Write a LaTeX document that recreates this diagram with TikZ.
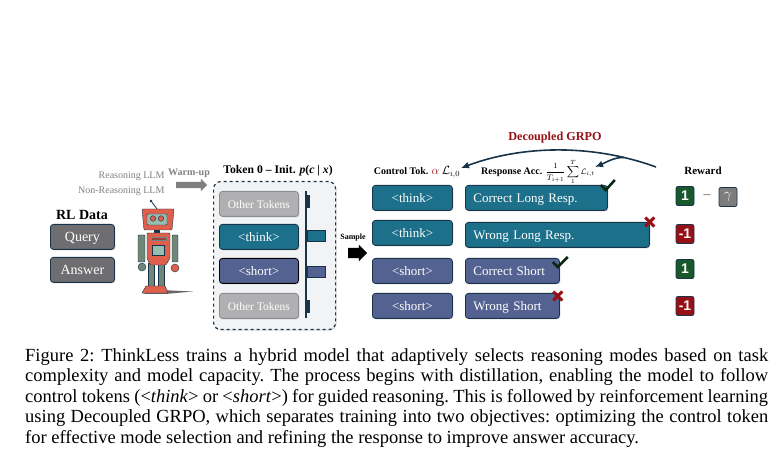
\documentclass[tikz,border=0pt]{standalone}
\usepackage{fontspec}
\setmainfont{Liberation Serif}
\setsansfont{Liberation Sans}
\usepackage{color}
\definecolor{myteal}{RGB}{29,112,138}
\definecolor{myindigo}{RGB}{84,98,145}
\definecolor{mygrey}{RGB}{110,110,112}
\definecolor{mylight}{RGB}{176,176,178}
\definecolor{myedge}{RGB}{24,52,74}
\definecolor{mypanel}{RGB}{241,243,245}
\definecolor{mygreen}{RGB}{24,88,42}
\definecolor{myred}{RGB}{150,16,22}
\definecolor{myrobot}{RGB}{222,96,76}
\definecolor{myrobotg}{RGB}{112,134,118}
\definecolor{myface}{RGB}{150,190,176}
\usepackage{amsmath}
\usetikzlibrary{positioning,shapes.arrows,shadows,calc,arrows.meta}

\begin{document}
\begin{tikzpicture}[
  x=1pt,
  y=-1pt,
  mybox/.style={
    draw=myedge,
    thick,
    rounded corners=3pt,
    anchor=north west,
    minimum height=25pt,
    text height=11pt,
    text depth=2pt,
    text=white,
    font=\fontsize{13}{15}\selectfont,
    drop shadow={shadow xshift=1pt,shadow yshift=-1pt,opacity=.35}
  },
  mytok/.style={
    mybox,
    minimum width=80pt,
    fill=#1
  },
  myother/.style={
    mybox,
    draw=mylight!80!black,
    fill=mylight,
    minimum width=79pt,
    font=\fontsize{11.5}{15}\selectfont
  },
  myresp/.style={
    mybox,
    inner xsep=8pt,
    fill=#1,
    align=left
  },
  mybadge/.style={
    draw=myedge,
    thick,
    rounded corners=2pt,
    minimum width=18pt,
    minimum height=19pt,
    inner sep=0pt,
    text=white,
    fill=#1,
    font=\fontsize{14}{15}\sffamily\bfseries\selectfont
  },
  myhead/.style={
    font=\fontsize{10}{12}\bfseries\selectfont
  },
  mybar/.style={
    draw=myedge,
    fill=#1,
    inner sep=0pt,
    anchor=west
  },
  myblock/.style={
    single arrow,
    draw=none,
    fill=#1,
    inner sep=0pt,
    single arrow head extend=3pt,
    single arrow tip angle=90
  },
  mycheck/.style={
    draw=mygreen!45!black,
    line width=2.6pt
  },
  mycross/.style={
    draw=myred,
    line width=3pt
  },
  myupdate/.style={
    -{Latex[length=8pt,width=7pt]},
    myedge,
    line width=1.6pt
  }
]
\useasboundingbox (0,0) rectangle (780,470);

% left column
\node[myhead, font=\fontsize{14}{16}\bfseries\selectfont] (rldata) at (82,215) {RL Data};
\node[mybox, fill=mygrey, minimum width=64pt, font=\fontsize{14}{15}\selectfont] (query) at (50,224) {Query};
\node[mybox, fill=mygrey, minimum width=64pt, font=\fontsize{14}{15}\selectfont] (answer) at (50,257) {Answer};

\node[text=gray, anchor=east, font=\fontsize{10}{11}\selectfont] (rllm) at (168,176) {Reasoning LLM};
\node[text=gray, anchor=east, font=\fontsize{10}{11}\selectfont] (nllm) at (168,191) {Non-Reasoning LLM};
\node[myhead, text=gray, font=\fontsize{10}{10}\bfseries\selectfont] (warm) at (189,173) {Warm-up};
\node[myblock=gray, minimum height=31pt] (warmarrow) at (190,185) {\rule{0pt}{6pt}};

% robot
\fill[black!60] (160,290) -- (193,291.5) -- (165,294) -- (142,294) -- cycle;
\draw[myedge, thick] (151,201) -- (157,209);
\fill[myedge] (151,201) circle (1.4);
\fill[myedge] (154,229) rectangle (160,235);
\draw[myedge, fill=myrobotg, rounded corners=1pt] (138,235) rectangle (145,262);
\draw[myedge, fill=myrobotg, rounded corners=1pt] (172,235) rectangle (178,262);
\draw[myedge, fill=myrobotg] (142,267) circle (4);
\draw[myedge, fill=myrobot] (175,268) circle (4);
\draw[myedge, fill=myrobotg] (148,263) rectangle (154,286);
\draw[myedge, fill=myrobotg] (158,263) rectangle (164,286);
\draw[myedge, fill=myrobot, rounded corners=1pt] (147,233) -- (170,233) -- (170,258) -- (166,265) -- (150,265) -- (147,258) -- cycle;
\draw[myedge!60, fill=myrobot!70!black] (151,237) rectangle (166,240);
\draw[myedge, fill=myface] (152,245) rectangle (164,255);
\draw[myedge, fill=myrobot, rounded corners=1pt] (142,209) -- (174,209) -- (172,230) -- (144,230) -- cycle;
\draw[myedge, fill=myface, rounded corners=1pt] (147,214) rectangle (167,225);
\draw[myedge, fill=myrobot] (153,218.5) circle (2.8);
\draw[myedge, fill=myrobot] (161,218.5) circle (2.8);
\draw[myedge, fill=myrobot] (146,286) -- (165,286) -- (168,293) -- (142,293) -- cycle;

% token panel
\node[myhead, font=\fontsize{11.7}{13}\bfseries\selectfont] (tokhead) at (278,171) {Token 0 -- Init. \textit{p}(\textit{c} | \textit{x})};
\node[draw=myedge, very thick, dashed, fill=mypanel, rounded corners=7pt, minimum width=122pt, minimum height=148pt, anchor=north west, drop shadow={shadow xshift=1pt,shadow yshift=-1pt,opacity=.3}] (panel) at (213,181) {};
\node[myother] (tok1) at (219,191) {Other Tokens};
\node[mytok=myteal, minimum width=79pt] (tok2) at (219,224) {<think>};
\node[mytok=myindigo, minimum width=79pt, draw=black] (tok3) at (219,258) {<short>};
\node[myother] (tok4) at (219,293) {Other Tokens};
\coordinate (axtop) at (306,191);
\coordinate (axbot) at (306,318);
\draw[myedge, line width=1.1pt] (axtop) -- (axbot);
\node[mybar=myedge, minimum width=2pt, minimum height=12pt] (bar1) at (307,201) {};
\node[mybar=myteal, minimum width=18pt, minimum height=11pt] (bar2) at (307,236) {};
\node[mybar=myindigo, minimum width=18pt, minimum height=11pt] (bar3) at (307,272) {};
\node[mybar=myedge, minimum width=2pt, minimum height=12pt] (bar4) at (307,306) {};

\node[myhead, font=\fontsize{8}{8}\bfseries\selectfont] (samp) at (353,238) {Sample};
\node[myblock=black, minimum height=19pt] (samparrow) at (355,253) {\rule{0pt}{10pt}};

% control tokens and responses
\node[myhead] (ctrlhead) at (417,172) {Control Tok. \textcolor{myred}{\fontsize{13}{13}\selectfont$\alpha$}\ {\fontsize{12}{13}\selectfont$\mathcal{L}_{i,0}$}};
\node[myhead, anchor=west, inner sep=0pt] (resphead) at (481,172) {Response Acc. {\fontsize{8}{9}\selectfont$\displaystyle\frac{1}{T_{i+1}}\sum_{1}^{T}\mathcal{L}_{i,t}$}};
\node[mytok=myteal] (ctrl1) at (372,185) {<think>};
\node[mytok=myteal] (ctrl2) at (372,220) {<think>};
\node[mytok=myindigo] (ctrl3) at (372,258) {<short>};
\node[mytok=myindigo] (ctrl4) at (372,293) {<short>};
\node[myresp=myteal, text width=126pt] (resp1) at (465,185) {Correct Long Resp.};
\node[myresp=myteal, text width=168pt] (resp2) at (465,222) {Wrong Long Resp.};
\node[myresp=myindigo, text width=78pt] (resp3) at (465,258) {Correct Short};
\node[myresp=myindigo, text width=78pt] (resp4) at (465,293) {Wrong Short};

% check and cross marks
\draw[mycheck] ($(resp1.north east)+(-7,0)$) -- ++(5,5) -- ++(9,-10);
\draw[mycheck] ($(resp3.north east)+(-7,4)$) -- ++(5,5) -- ++(10,-10);
\draw[mycross] ($(resp2.north east)+(-4.5,-4.5)$) -- ++(9,9) ++(-9,0) -- ++(9,-9);
\draw[mycross] ($(resp4.north east)+(-6.5,-1.5)$) -- ++(9,9) ++(-9,0) -- ++(9,-9);

% reward
\node[myhead, font=\fontsize{11}{13}\bfseries\selectfont] (rewhead) at (703,171) {Reward};
\node[mybadge=mygreen] (rew1) at (685,196) {1};
\node[mybadge=myred] (rew2) at (685,234) {-1};
\node[mybadge=mygreen] (rew3) at (685,269) {1};
\node[mybadge=myred] (rew4) at (685,306) {-1};
\node[text=gray!70!black, font=\fontsize{14}{14}\selectfont] (minus) at (707,197) {--};
\node[mybadge=mygrey!90, text=white, font=\fontsize{15}{15}\selectfont] (gam) at (728,197) {$\gamma$};

% update arrows
\node[text=myred, font=\fontsize{12.2}{13}\bfseries\selectfont] (grpo) at (555,138) {Decoupled GRPO};
\coordinate (rewstart) at (656,167);
\coordinate (ctrlend) at (461,168);
\coordinate (respend) at (595,167);
\draw[myupdate] (rewstart) .. controls (590,143) and (520,146) .. (ctrlend) coordinate[pos=.16] (branch);
\draw[myupdate] (branch) .. controls (614,157) and (605,163) .. (respend);

% caption
\node[anchor=north west, inner sep=0pt, text width=743pt, align=justify, font=\fontsize{18.5}{20.5}\selectfont] (caption) at (25,348) {\frenchspacing Figure 2: ThinkLess trains a hybrid model that adaptively selects reasoning modes based on task\linebreak
complexity and model capacity. The process begins with distillation, enabling the model to follow\linebreak
control tokens (<\textit{think}> or <\textit{short}>) for guided reasoning. This is followed by reinforcement learning\linebreak
using Decoupled GRPO, which separates training into two objectives: optimizing the control token\linebreak
for effective mode selection and refining the response to improve answer accuracy.\par};

\end{tikzpicture}
\end{document}
